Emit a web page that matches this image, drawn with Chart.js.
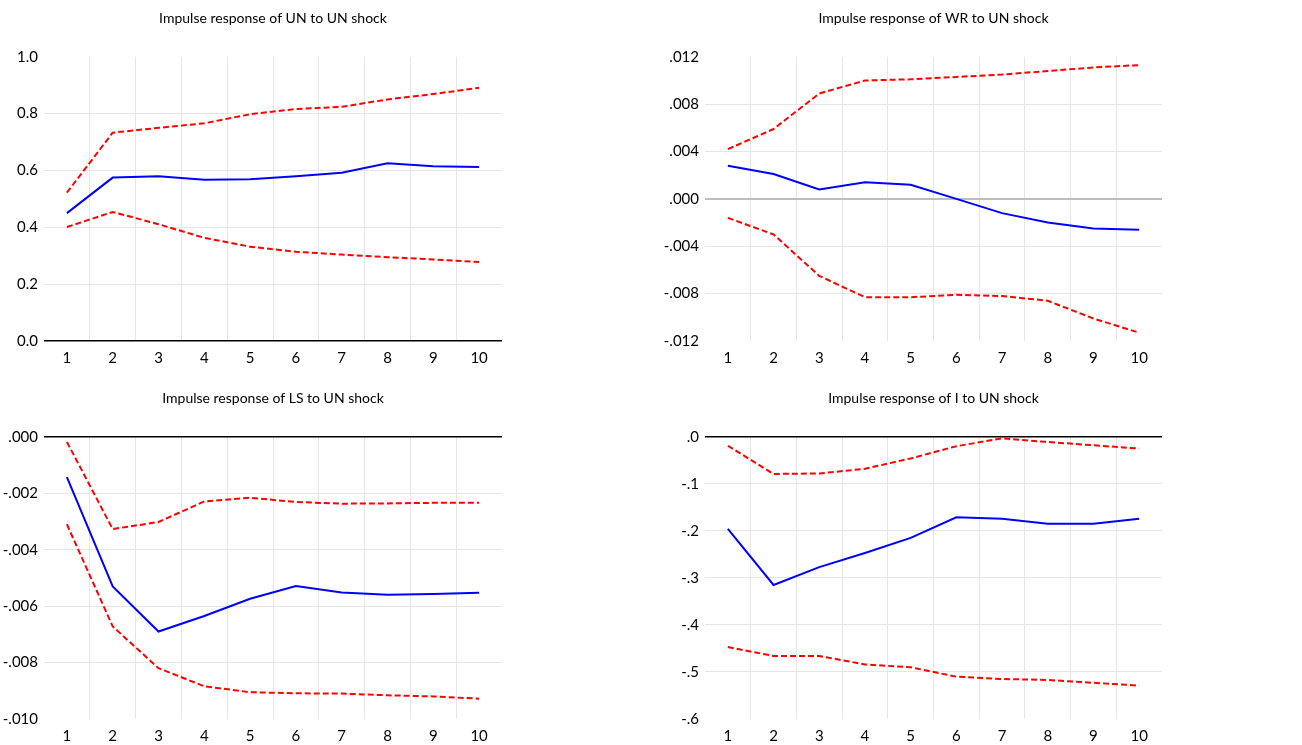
<!DOCTYPE html>
<html>
<head>
<meta charset="utf-8">
<script src="https://cdn.jsdelivr.net/npm/chart.js@4.4.1/dist/chart.umd.min.js"></script>
<style>
  body { margin: 0; background: #fff; width: 1302px; height: 745px; position: relative; overflow: hidden; }
  .box { position: absolute; }
</style>
</head>
<body>
<div class="box" style="left:0px;top:0px;width:520px;height:367px"><canvas id="c1"></canvas></div>
<div class="box" style="left:650px;top:0px;width:530px;height:367px"><canvas id="c2"></canvas></div>
<div class="box" style="left:0px;top:380px;width:520px;height:365px"><canvas id="c3"></canvas></div>
<div class="box" style="left:650px;top:380px;width:530px;height:365px"><canvas id="c4"></canvas></div>
<script>
  // periodos
  const periodos = ['1', '2', '3', '4', '5', '6', '7', '8', '9', '10'];

  // UN -> UN
  const unResp  = [0.450, 0.575, 0.580, 0.567, 0.569, 0.580, 0.592, 0.625, 0.615, 0.612];
  const unSup   = [0.522, 0.733, 0.750, 0.766, 0.798, 0.816, 0.824, 0.850, 0.869, 0.891];
  const unInf   = [0.401, 0.454, 0.411, 0.363, 0.332, 0.314, 0.304, 0.295, 0.287, 0.278];

  // WR -> UN
  const wrResp  = [0.0028, 0.0021, 0.0008, 0.0014, 0.0012, 0.0000, -0.0012, -0.0020, -0.0025, -0.0026];
  const wrSup   = [0.0042, 0.0059, 0.0089, 0.0100, 0.0101, 0.0103, 0.0105, 0.0108, 0.0111, 0.0113];
  const wrInf   = [-0.0016, -0.0030, -0.0065, -0.0083, -0.0083, -0.0081, -0.0082, -0.0086, -0.0101, -0.0113];

  // LS -> UN
  const lsResp  = [-0.00143, -0.0053, -0.0069, -0.00635, -0.00574, -0.00529, -0.00552, -0.0056, -0.00557, -0.00553];
  const lsSup   = [-0.00018, -0.00327, -0.00302, -0.00229, -0.00216, -0.00231, -0.00237, -0.00236, -0.00234, -0.00234];
  const lsInf   = [-0.0031, -0.00672, -0.0082, -0.00884, -0.00905, -0.00909, -0.0091, -0.00916, -0.0092, -0.00928];

  // I -> UN
  const iResp   = [-0.196, -0.315, -0.277, -0.247, -0.215, -0.171, -0.174, -0.185, -0.185, -0.174];
  const iSup    = [-0.019, -0.079, -0.078, -0.068, -0.046, -0.020, -0.0035, -0.011, -0.018, -0.025];
  const iInf    = [-0.447, -0.466, -0.466, -0.484, -0.490, -0.510, -0.515, -0.517, -0.523, -0.529];

  const fonte = "Lato, 'Open Sans', sans-serif";

  /* formato dos ticks: .012, -.004, 1.0 etc */
  function fmt(dec, zeroLead) {
    return v => {
      if (Math.abs(v) < 1e-9) v = 0;
      let s = v.toFixed(dec);
      if (!zeroLead) s = s.replace('0.', '.');
      return s;
    };
  }

  function grafico(id, titulo, resp, sup, inf, yMin, yMax, passo, dec, zeroLead, zeroCor, zeroLarg, yLarg) {
    const ctx = document.getElementById(id).getContext('2d');
    return new Chart(ctx, {
      type: 'line',
      data: {
        labels: periodos,
        datasets: [
          { data: sup, borderColor: '#ff0000', borderWidth: 2, borderDash: [6, 3], pointRadius: 0, tension: 0 },
          { data: inf, borderColor: '#ff0000', borderWidth: 2, borderDash: [6, 3], pointRadius: 0, tension: 0 },
          { data: resp, borderColor: '#0000ff', borderWidth: 2, pointRadius: 0, tension: 0 }
        ]
      },
      options: {
        responsive: true,
        maintainAspectRatio: false,
        animation: false,
        layout: { padding: { left: 0, right: 18, top: 0, bottom: 0 } },
        plugins: {
          legend: { display: false },
          tooltip: { enabled: false },
          title: {
            display: true,
            text: titulo,
            fullSize: false,
            color: '#000',
            font: { family: fonte, size: 14, weight: 'normal' },
            padding: { top: 10, bottom: 30 }
          }
        },
        scales: {
          x: {
            offset: true,
            grid: {
              offset: true,
              drawTicks: false,
              color: c => (c.index === undefined || c.index === 0) ? 'rgba(0,0,0,0)' : '#e6e6e6',
              lineWidth: 1
            },
            border: { display: false },
            ticks: { color: '#000', padding: 8, font: { family: fonte, size: 15 }, maxRotation: 0 },
            afterFit: s => { s.height = 26; }
          },
          y: {
            min: yMin,
            max: yMax,
            grid: {
              drawTicks: false,
              color: c => {
                if (!c.tick) return 'rgba(0,0,0,0)';
                if (Math.abs(c.tick.value) < 1e-9) return zeroCor;
                const n = c.scale.ticks.length;
                if (c.index === 0 || c.index === n - 1) return 'rgba(0,0,0,0)';
                return '#e6e6e6';
              },
              lineWidth: c => (c.tick && Math.abs(c.tick.value) < 1e-9) ? zeroLarg : 1
            },
            border: { display: false },
            ticks: {
              stepSize: passo,
              color: '#000',
              padding: 6,
              font: { family: fonte, size: 15 },
              callback: fmt(dec, zeroLead)
            },
            afterFit: s => { s.width = yLarg; }
          }
        }
      }
    });
  }

  document.addEventListener('DOMContentLoaded', () => {
    grafico('c1', 'Impulse response of UN to UN shock', unResp, unSup, unInf, 0, 1, 0.2, 1, true, '#000', 1.5, 44);
    grafico('c2', 'Impulse response of WR to UN shock', wrResp, wrSup, wrInf, -0.012, 0.012, 0.004, 3, false, '#bdbdbd', 2, 55);
    grafico('c3', 'Impulse response of LS to UN shock', lsResp, lsSup, lsInf, -0.010, 0, 0.002, 3, false, '#000', 1.5, 44);
    grafico('c4', 'Impulse response of I to UN shock', iResp, iSup, iInf, -0.6, 0, 0.1, 1, false, '#000', 1.5, 55);
  });
</script>
</body>
</html>
